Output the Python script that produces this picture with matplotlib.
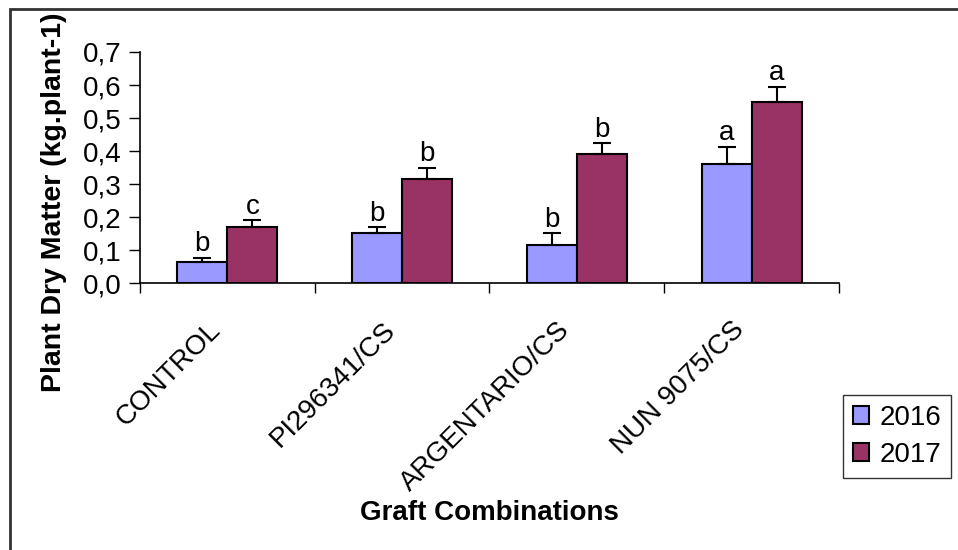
import matplotlib.pyplot as plt
import numpy as np
from matplotlib.patches import Rectangle
from matplotlib.ticker import FuncFormatter
from matplotlib.transforms import ScaledTranslation

plt.rcParams['font.family'] = ['Liberation Sans', 'DejaVu Sans']

# Dry matter per plant (kg) with standard errors and significance letters
combinations = ["CONTROL", "PI296341/CS", "ARGENTARIO/CS", "NUN 9075/CS"]
years = ["2016", "2017"]
dry_2016 = [0.064, 0.152, 0.116, 0.361]
dry_2017 = [0.169, 0.315, 0.390, 0.549]
err_2016 = [0.013, 0.017, 0.035, 0.052]
err_2017 = [0.022, 0.035, 0.034, 0.045]
letters_2016 = ["b", "b", "b", "a"]
letters_2017 = ["c", "b", "b", "a"]

colors = ["#9999FF", "#993366"]
font_size = 20

fig = plt.figure(figsize=(9.58, 5.5), dpi=100)
ax = fig.add_axes([0.1461, 0.4849, 0.7297, 0.4206])

x = np.arange(len(combinations))
width = 0.286

series = [
    (dry_2016, err_2016, letters_2016, -width / 2),
    (dry_2017, err_2017, letters_2017, width / 2),
]
for (values, errors, letters, offset), color, year in zip(series, colors, years):
    ax.bar(x + offset, values, width, color=color, edgecolor="black",
           linewidth=1.5, label=year, zorder=2)
    ax.errorbar(x + offset, values, yerr=[np.zeros(len(values)), errors],
                fmt="none", ecolor="black", elinewidth=1.5, capsize=6.5,
                capthick=1.5, zorder=3)
    for xi, v, e, letter in zip(x + offset, values, errors, letters):
        ax.text(xi, v + e + 0.002, letter, ha="center", va="bottom",
                fontsize=font_size)

ax.set_xlim(-0.5, len(combinations) - 0.5)
ax.set_ylim(0, 0.7)
ax.set_yticks(np.arange(0, 0.71, 0.1))
ax.yaxis.set_major_formatter(FuncFormatter(lambda v, _: f"{v:.1f}".replace(".", ",")))

# category ticks sit between the groups, labels are placed at group centres
ax.set_xticks(np.arange(-0.5, len(combinations), 1.0))
ax.set_xticklabels([])
ax.set_xticks(x, minor=True)
ax.set_xticklabels(combinations, minor=True, rotation=45, ha="right",
                   rotation_mode="anchor", fontsize=font_size)
ax.tick_params(axis="x", which="minor", length=0, pad=14)
ax.tick_params(axis="x", which="major", length=7, width=1, direction="out")
ax.tick_params(axis="y", length=8, width=1, direction="out", labelsize=font_size, pad=5)

shift = ScaledTranslation(-0.2, -0.14, fig.dpi_scale_trans)
for label in ax.get_xticklabels(minor=True):
    label.set_transform(label.get_transform() + shift)

for side in ["top", "right"]:
    ax.spines[side].set_visible(False)
for side in ["left", "bottom"]:
    ax.spines[side].set_linewidth(1.2)

fig.text(0.0564, 0.633, "Plant Dry Matter (kg.plant-1)", rotation=90,
         ha="center", va="center", fontsize=20.5, fontweight="bold")
fig.text(0.511, 0.067, "Graft Combinations", ha="center", va="center",
         fontsize=font_size, fontweight="bold")

ax.legend(loc="upper left", bbox_to_anchor=(0.880, 0.2818),
          bbox_transform=fig.transFigure, fontsize=font_size, frameon=True,
          fancybox=False, edgecolor="black", handlelength=0.6,
          handleheight=0.6, handletextpad=0.35, borderpad=0.35,
          labelspacing=0.4, borderaxespad=0)
ax.get_legend().get_frame().set_linewidth(1.0)

# outer chart-area frame
fig.patches.append(Rectangle((0.0104, -0.05), 1.1, 0.0336 + 1.0,
                             transform=fig.transFigure, fill=False,
                             edgecolor="#333333", linewidth=2.0))

fig.savefig("out.png", dpi=100)
